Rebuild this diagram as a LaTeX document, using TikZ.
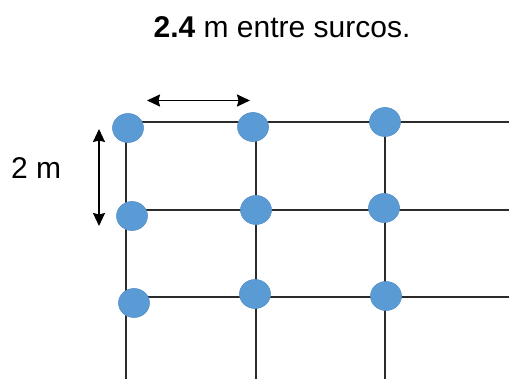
\documentclass[tikz,border=0pt]{standalone}
\usepackage{fontspec}
\setmainfont{Liberation Sans}
\usetikzlibrary{arrows.meta,shapes.geometric}
\definecolor{dotblue}{HTML}{5B9BD5}
\definecolor{dotedge}{HTML}{5590C8}
\definecolor{gridgray}{HTML}{2B2B2B}
\begin{document}
\begin{tikzpicture}[x=1pt,y=-1pt,
  plant/.style={ellipse,fill=dotblue,draw=dotedge,line width=0.6pt,minimum width=31pt,minimum height=29pt,inner sep=0pt},
  gridline/.style={draw=gridgray,line width=1.4pt},
  dim/.style={draw=black,line width=1.8pt,{Stealth[length=13pt,width=12pt,inset=1.5pt]}-{Stealth[length=13pt,width=12pt,inset=1.5pt]}},
  lbl/.style={inner sep=0pt,text=black}]
\useasboundingbox (0,0) rectangle (509,379);
% grid coordinates
\coordinate (v1t) at (126,122); \coordinate (v1b) at (126,379);
\coordinate (v2t) at (256,122); \coordinate (v2b) at (256,379);
\coordinate (v3t) at (385,122); \coordinate (v3b) at (385,379);
\coordinate (h1l) at (126,122); \coordinate (h1r) at (509,122);
\coordinate (h2l) at (126,210); \coordinate (h2r) at (509,210);
\coordinate (h3l) at (126,297); \coordinate (h3r) at (509,297);
\draw[gridline] (v1t) -- (v1b);
\draw[gridline] (v2t) -- (v2b);
\draw[gridline] (v3t) -- (v3b);
\draw[gridline] (h1l) -- (h1r);
\draw[gridline] (h2l) -- (h2r);
\draw[gridline] (h3l) -- (h3r);
% plants
\node[plant] (p11) at (128,128) {};
\node[plant] (p12) at (253,127) {};
\node[plant] (p13) at (385,122) {};
\node[plant] (p21) at (132,216) {};
\node[plant] (p22) at (256,210) {};
\node[plant] (p23) at (384,208) {};
\node[plant] (p31) at (134,303) {};
\node[plant] (p32) at (255,294) {};
\node[plant] (p33) at (386,296) {};
% dimension arrows
\coordinate (ha) at (147,100.5); \coordinate (hb) at (250,100.5);
\coordinate (va) at (99,129); \coordinate (vb) at (99,226);
\draw[dim] (ha) -- (hb);
\draw[dim] (va) -- (vb);
% labels
\node[lbl,font=\fontsize{30}{34}\selectfont] (title) at (282,27) {\textbf{2.4} m entre surcos.};
\node[lbl,anchor=west,font=\fontsize{30}{34}\selectfont] (two) at (11,168) {2 m};
\end{tikzpicture}
\end{document}
